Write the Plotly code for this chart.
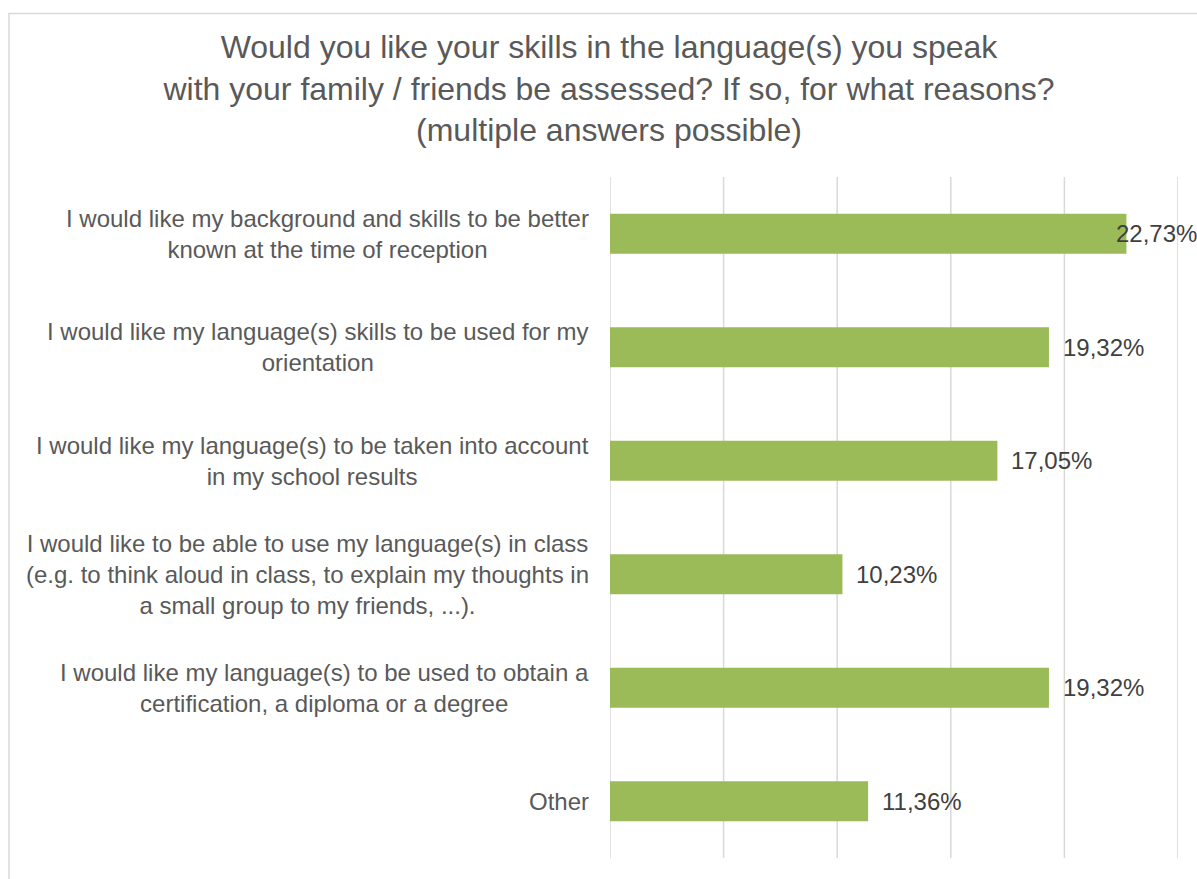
import plotly.graph_objects as go

# Survey answers (top to bottom) and their share of responses in percent
categories = [
    "I would like my background and skills to be better<br>known at the time of reception",
    "I would like my language(s) skills to be used for my<br>orientation",
    "I would like my language(s) to be taken into account<br>in my school results",
    "I would like to be able to use my language(s) in class<br>(e.g. to think aloud in class, to explain my thoughts in<br>a small group to my friends, ...).",
    "I would like my language(s) to be used to obtain a<br>certification, a diploma or a degree",
    "Other",
]
shares = [22.73, 19.32, 17.05, 10.23, 19.32, 11.36]
x_ticks = [0, 5, 10, 15, 20, 25]

title_text = ("Would you like your skills in the language(s) you speak<br>"
              "with your family / friends be assessed? If so, for what reasons?<br>"
              "(multiple answers possible)")

FONT = "Liberation Sans, Arial, sans-serif"
W, H = 1197, 879
L, R, T, B = 610, 18.5, 177, 21
plot_w = W - L - R
plot_h = H - T - B

fig = go.Figure()
fig.add_trace(go.Bar(
    x=shares,
    y=categories,
    orientation="h",
    marker=dict(color="#9BBB59", line=dict(width=0)),
    hoverinfo="x+y",
))

# vertical gridlines, including the ones on both edges of the value range
for t in x_ticks:
    fig.add_shape(
        type="line", xref="x", yref="paper",
        x0=t, x1=t, y0=0, y1=1,
        line=dict(color="#D9D9D9", width=1.5), layer="below",
    )

# category labels, centred block right-aligned against the plot area
for cat in categories:
    fig.add_annotation(
        x=0, xref="paper", y=cat, yref="y",
        text=cat, showarrow=False,
        xanchor="right", yanchor="middle", align="center",
        xshift=-19,
        font=dict(family=FONT, size=24, color="#595959"),
    )

# value labels after each bar (first one pulled back to stay on the canvas)
label_shift = [-12, 12, 12, 12, 12, 12]
for cat, val, dx in zip(categories, shares, label_shift):
    fig.add_annotation(
        x=val, xref="x", y=cat, yref="y",
        text=f"{val:.2f}%".replace(".", ","), showarrow=False,
        xanchor="left", yanchor="middle",
        xshift=dx,
        font=dict(family=FONT, size=24, color="#404040"),
    )

# outer chart border
fig.add_shape(
    type="rect", xref="paper", yref="paper",
    x0=(8.5 - L) / plot_w, x1=(W + 20 - L) / plot_w,
    y0=-(B + 20) / plot_h, y1=1 + (T - 13.5) / plot_h,
    line=dict(color="#D9D9D9", width=1.5),
    fillcolor="rgba(0,0,0,0)", layer="below",
)

fig.update_layout(
    width=W, height=H,
    margin=dict(l=L, r=R, t=T, b=B, pad=0),
    paper_bgcolor="white", plot_bgcolor="white",
    showlegend=False,
    bargap=0.648,
    title=dict(
        text=title_text,
        x=609 / W, xref="container", xanchor="center",
        y=1 - 58 / H, yref="container", yanchor="top",
        font=dict(family=FONT, size=32, color="#595959"),
    ),
    xaxis=dict(
        range=[0, 25], tickvals=x_ticks, showticklabels=False,
        showgrid=False, zeroline=False, showline=False, fixedrange=True,
    ),
    yaxis=dict(
        categoryorder="array", categoryarray=categories,
        autorange="reversed", showticklabels=False,
        showgrid=False, zeroline=False, showline=False, fixedrange=True,
    ),
)

fig.write_html("out.html")
